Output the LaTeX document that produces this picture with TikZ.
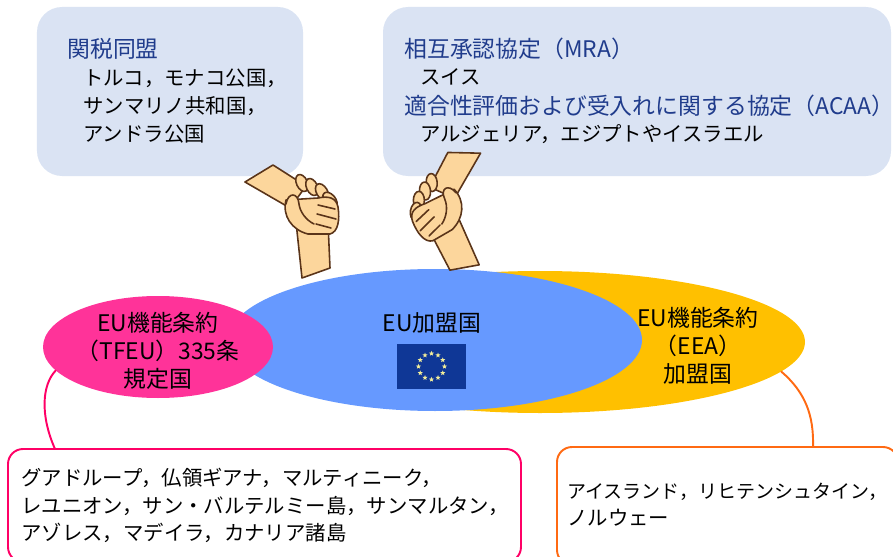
\documentclass[tikz,border=0pt]{standalone}
\usepackage{fontspec}
\setmainfont{Noto Sans CJK JP}
\usetikzlibrary{shapes.geometric}

\definecolor{boxblue}{HTML}{DAE3F3}
\definecolor{headblue}{HTML}{203C8C}
\definecolor{eupink}{HTML}{FF3399}
\definecolor{eublue}{HTML}{6699FF}
\definecolor{eeayellow}{HTML}{FFC000}
\definecolor{flagblue}{HTML}{0F3796}
\definecolor{flagstar}{HTML}{F3EE9A}
\definecolor{linepink}{HTML}{FF0066}
\definecolor{lineorange}{HTML}{FF6A13}
\definecolor{skin}{HTML}{FCD69C}
\definecolor{skinline}{HTML}{5A3419}

\tikzset{
  infobox/.style={fill=boxblue, rounded corners=0.5cm, inner sep=0pt},
  listbox/.style={draw, fill=white, line width=1.1pt, rounded corners=0.3cm, inner sep=0pt},
  headtxt/.style={anchor=west, inner sep=0pt, text=headblue, font=\fontsize{13}{15}\selectfont},
  bodytxt/.style={anchor=west, inner sep=0pt, font=\fontsize{11.6}{14}\selectfont},
  ovaltxt/.style={align=center, inner sep=0pt, font=\fontsize{13}{16}\selectfont},
  hand/.style={draw=skinline, fill=skin, line width=0.9pt},
  hands/.pic={
    \draw[hand] (-0.63,-0.20) -- (-0.35,-0.37) -- (-0.02,-0.16) -- (-0.18,0.06) -- cycle;
    \draw[hand] (-0.12,0.20) -- (-0.06,0.76) -- (0.22,0.66) -- (0.20,0.20) -- cycle;
    \draw[hand, rotate around={25:(-0.06,-0.19)}] (-0.06,-0.19) ellipse (0.055 and 0.09);
    \draw[hand, rotate around={25:(0.04,-0.15)}] (0.04,-0.15) ellipse (0.055 and 0.09);
    \draw[hand, rotate around={30:(0.14,-0.10)}] (0.14,-0.10) ellipse (0.055 and 0.09);
    \draw[hand, rotate around={40:(0.22,-0.02)}] (0.22,-0.02) ellipse (0.055 and 0.09);
    \draw[hand] (-0.22,-0.02) .. controls (-0.26,0.14) and (-0.16,0.28) .. (0.00,0.32)
      -- (0.22,0.32) .. controls (0.30,0.30) and (0.32,0.18) .. (0.30,0.05)
      .. controls (0.28,-0.05) and (0.20,-0.06) .. (0.10,-0.04) -- cycle;
    \draw[hand] (-0.22,0.02) .. controls (-0.20,-0.10) and (-0.10,-0.10) .. (-0.09,0.02)
      .. controls (-0.08,0.10) and (-0.02,0.18) .. (0.06,0.22);
    \draw[skinline, line width=0.9pt] (0.10,0.03) -- (0.27,0.07);
    \draw[skinline, line width=0.9pt] (0.09,0.12) -- (0.28,0.17);
    \draw[skinline, line width=0.9pt] (0.08,0.22) -- (0.23,0.26);
  }
}

\begin{document}
\begin{tikzpicture}[line cap=round,line join=round,x=2cm,y=-2cm]
  \useasboundingbox (0,0) rectangle (8.93,5.57);

  \node[infobox, minimum width=5.32cm, minimum height=3.38cm] (cubox) at (1.70,0.915) {};
  \node[infobox, minimum width=10.16cm, minimum height=3.38cm] (mrabox) at (6.37,0.915) {};
  \node[headtxt] (cuhead) at (0.67,0.49) {関税同盟};
  \node[bodytxt] (cu1) at (0.83,0.78) {トルコ，モナコ公国，};
  \node[bodytxt] (cu2) at (0.83,1.06) {サンマリノ共和国，};
  \node[bodytxt] (cu3) at (0.83,1.34) {アンドラ公国};
  \node[headtxt] (mrahead) at (4.04,0.49) {相互承認協定（MRA）};
  \node[bodytxt] (mra1) at (4.20,0.77) {スイス};
  \node[headtxt] (acaahead) at (4.04,1.06) {適合性評価および受入れに関する協定（ACAA）};
  \node[bodytxt] (acaa1) at (4.20,1.34) {アルジェリア，エジプトやイスラエル};

  \node[ellipse, fill=eeayellow, minimum width=10.6cm, minimum height=2.84cm, inner sep=0pt] (eea) at (5.40,3.42) {};
  \node[ellipse, fill=eublue, minimum width=8.28cm, minimum height=2.84cm, inner sep=0pt] (eu) at (4.35,3.40) {};
  \node[ellipse, fill=eupink, minimum width=4.6cm, minimum height=2.04cm, inner sep=0pt] (tfeu) at (1.58,3.47) {};

  \node[ovaltxt] (eutxt) at (4.32,3.23) {EU加盟国};
  \node[fill=flagblue, minimum width=1.38cm, minimum height=0.9cm, inner sep=0pt] (flag) at (4.315,3.665) {};
  \foreach \k in {0,...,11}
    \node[star, star points=5, star point ratio=2.3, fill=flagstar, inner sep=0pt, minimum size=3pt]
      at ([shift={(\k*30:0.13)}]flag) {};
  \node[ovaltxt] (tfeutxt) at (1.58,3.51) {EU機能条約\\（TFEU）335条\\規定国};
  \node[ovaltxt] (eeatxt) at (6.98,3.46) {EU機能条約\\（EEA）\\加盟国};

  \node[listbox, draw=linepink, minimum width=10.26cm, minimum height=2.26cm] (ombox) at (2.645,5.055) {};
  \node[listbox, draw=lineorange, minimum width=6.82cm, minimum height=2.36cm] (efbox) at (7.275,5.06) {};
  \coordinate (omtop) at (0.55,4.49);
  \coordinate (eftop) at (8.13,4.47);
  \draw[linepink, line width=1.1pt] (tfeu.193) .. controls (0.42,3.85) and (0.40,4.15) .. (omtop);
  \draw[lineorange, line width=1.1pt] (eea.353) .. controls (8.05,3.92) and (8.14,4.15) .. (eftop);

  \node[bodytxt] (om1) at (0.21,4.78) {グアドループ，仏領ギアナ，マルティニーク，};
  \node[bodytxt] (om2) at (0.21,5.06) {レユニオン，サン・バルテルミー島，サンマルタン，};
  \node[bodytxt] (om3) at (0.21,5.33) {アゾレス，マデイラ，カナリア諸島};
  \node[bodytxt, font=\fontsize{10.8}{14}\selectfont] (ef1) at (5.67,4.92) {アイスランド，リヒテンシュタイン，};
  \node[bodytxt] (ef2) at (5.67,5.18) {ノルウェー};

  \pic at (3.08,2.02) {hands};
  \pic[xscale=-1, rotate=-30] at (4.36,2.02) {hands};
\end{tikzpicture}
\end{document}
